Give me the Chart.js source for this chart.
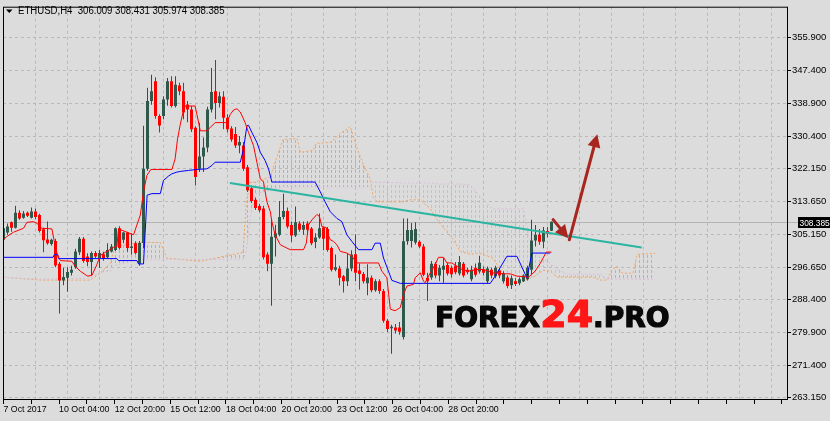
<!DOCTYPE html>
<html>
<head>
<meta charset="utf-8">
<title>ETHUSD H4</title>
<script src="https://cdn.jsdelivr.net/npm/chart.js@4.4.1/dist/chart.umd.min.js"></script>
<style>
    html, body { margin: 0; padding: 0; background: #dcdcdc; }
    #wrap { width: 830px; height: 421px; }
</style>
</head>
<body>
<div id="wrap"><canvas id="ethChart" width="830" height="421"></canvas></div>
<script>
/* =========================================
   ETHUSD H4 - ICHIMOKU CHART
   ========================================= */

// ===== DATA =====
const symbolName = 'ETHUSD,H4';

const candleOpen = [
    303.7, 305.6, 308.2, 306.8, 310.7, 309.4, 310.7, 309.4, 311.0, 310.1,
    306.4, 303.8, 302.6, 303.4, 297.5, 293.2, 293.9, 295.2, 296.6, 300.5,
    304.0, 299.4, 298.0, 300.3, 299.0, 300.0, 299.2, 300.7, 301.1, 306.7,
    303.7, 305.6, 301.6, 302.8, 297.5, 302.9, 322.0, 339.5, 344.6, 335.6,
    335.6, 339.9, 344.6, 338.2, 343.5, 342.0, 338.6, 337.3, 332.6, 322.0,
    325.2, 327.5, 337.3, 342.0, 339.0, 340.6, 335.2, 332.4, 331.0, 328.0,
    328.0, 322.4, 317.0, 314.0, 312.4, 311.8, 299.9, 297.5, 304.3, 305.0,
    309.6, 311.1, 307.5, 304.8, 307.9, 306.3, 307.9, 306.6, 303.1, 304.3,
    306.9, 306.5, 301.6, 296.0, 296.3, 294.3, 293.0, 296.3, 300.0, 295.8,
    294.9, 292.5, 293.9, 290.7, 293.0, 290.5, 282.8, 280.9, 281.1, 281.1,
    278.6, 303.3, 303.4, 303.0, 303.2, 302.0, 293.9, 294.0, 297.5, 294.5,
    296.0, 297.2, 296.5, 297.0, 295.0, 297.5, 296.0, 293.5, 296.5, 295.5,
    296.0, 293.0, 296.0, 294.3, 295.8, 293.0, 294.0, 292.0, 293.0, 292.5,
    293.0, 293.5, 296.0, 303.5, 305.0, 303.2, 306.0, 306.009
];
const candleHigh = [
    307.2, 307.9, 308.4, 312.5, 311.3, 311.1, 311.0, 312.0, 311.8, 310.4,
    306.8, 308.4, 304.0, 304.0, 298.0, 296.5, 296.6, 297.0, 301.4, 304.4,
    304.4, 300.2, 300.7, 300.8, 301.1, 300.6, 302.8, 302.6, 306.9, 307.2,
    305.8, 305.8, 305.4, 303.3, 303.4, 333.1, 342.9, 346.3, 345.6, 336.1,
    340.7, 345.4, 345.9, 345.9, 344.2, 344.2, 339.5, 338.2, 333.0, 333.9,
    330.1, 338.0, 348.0, 350.1, 341.9, 342.0, 336.1, 333.0, 332.8, 330.5,
    328.9, 323.0, 317.5, 314.6, 313.0, 312.5, 300.5, 308.9, 307.6, 313.7,
    315.6, 312.0, 308.4, 312.3, 308.5, 308.4, 308.5, 307.0, 305.4, 310.5,
    307.1, 307.0, 302.0, 299.9, 297.0, 294.6, 300.3, 301.0, 305.1, 297.6,
    295.4, 297.4, 294.5, 293.5, 293.5, 291.0, 283.3, 281.8, 282.0, 282.5,
    309.2, 309.2, 308.0, 308.2, 303.6, 302.6, 295.2, 298.2, 298.0, 297.2,
    299.0, 297.8, 297.0, 298.0, 299.5, 298.0, 296.5, 297.0, 297.6, 299.6,
    296.8, 296.8, 296.5, 297.0, 296.3, 295.6, 294.5, 294.5, 293.8, 294.0,
    294.8, 297.0, 308.9, 307.5, 306.5, 307.0, 307.0, 308.431
];
const candleLow = [
    303.3, 305.0, 305.8, 306.6, 308.9, 309.1, 309.6, 309.2, 309.0, 305.6,
    300.5, 302.4, 302.2, 296.6, 284.7, 292.0, 290.3, 294.5, 296.2, 299.8,
    297.8, 296.9, 294.6, 299.0, 296.4, 298.3, 298.9, 300.4, 300.8, 301.2,
    302.8, 300.6, 299.9, 299.9, 297.0, 301.5, 321.5, 338.5, 334.9, 331.4,
    334.8, 338.3, 337.8, 337.8, 341.0, 334.8, 334.0, 331.5, 317.7, 321.2,
    321.2, 326.3, 336.5, 334.8, 337.8, 332.2, 331.4, 329.0, 327.4, 326.0,
    321.5, 316.0, 313.2, 311.4, 310.8, 298.6, 295.6, 286.7, 299.4, 304.6,
    309.0, 306.6, 303.1, 304.4, 305.8, 305.0, 305.0, 302.3, 301.5, 304.0,
    301.0, 300.6, 295.5, 295.6, 291.9, 290.1, 291.8, 295.6, 293.0, 290.9,
    292.4, 289.4, 290.2, 290.3, 289.8, 282.3, 279.9, 274.3, 279.5, 279.2,
    278.0, 302.4, 301.7, 302.5, 301.6, 294.3, 287.9, 293.4, 293.8, 293.0,
    292.6, 294.5, 294.0, 294.8, 294.5, 294.0, 294.8, 293.0, 294.2, 295.0,
    294.5, 292.5, 293.8, 293.8, 293.8, 292.4, 291.2, 291.0, 291.8, 292.0,
    292.8, 293.2, 294.9, 302.0, 302.4, 301.5, 304.3, 305.974
];
const candleClose = [
    306.7, 307.1, 306.8, 310.7, 309.2, 310.5, 309.9, 311.0, 309.6, 306.0,
    303.6, 302.8, 303.7, 297.1, 293.2, 294.1, 295.4, 296.0, 300.7, 304.0,
    298.2, 298.0, 300.3, 299.4, 300.3, 298.8, 301.1, 302.0, 306.7, 301.6,
    305.6, 301.6, 302.0, 300.3, 302.9, 322.0, 339.5, 342.0, 335.6, 333.2,
    339.9, 344.6, 338.2, 343.7, 342.0, 336.5, 337.3, 332.2, 319.9, 325.2,
    327.5, 337.3, 341.8, 339.0, 340.7, 335.2, 332.2, 329.6, 328.0, 328.9,
    322.0, 316.5, 313.7, 311.9, 311.3, 299.2, 297.5, 304.5, 305.4, 309.6,
    311.1, 307.1, 304.8, 308.2, 306.3, 307.5, 306.3, 302.8, 304.3, 306.7,
    304.0, 301.1, 296.0, 296.6, 293.9, 293.0, 296.3, 299.9, 295.2, 294.9,
    293.0, 294.0, 290.7, 293.0, 290.5, 282.8, 280.7, 281.3, 280.3, 280.0,
    303.3, 306.2, 306.2, 306.5, 302.0, 294.7, 293.0, 297.5, 294.5, 296.5,
    297.0, 295.0, 294.8, 295.3, 298.0, 294.5, 295.3, 296.0, 294.7, 297.8,
    295.2, 296.3, 294.5, 296.5, 294.5, 295.0, 291.8, 293.8, 292.3, 293.5,
    294.5, 296.5, 303.5, 305.0, 303.2, 306.1, 305.2, 308.385
];

// Tenkan-sen (red) - bar index / price
const tenkanIdx = [
    0, 0.85, 2.5, 5, 5.85, 7.5, 8.35, 9.6, 12.1, 12.7, 13.35, 14.2, 17.1, 17.9, 19.2,
    21, 22.1, 23.35, 24.2, 25.85, 27.5, 28.35, 28.75, 32.5, 34.2, 35, 35.85, 36.85,
    42.1, 42.9, 43.5, 44.2, 44.85, 45.4, 47.9, 48.35, 49.2, 50.85, 52.9, 55.85, 56.7,
    57.5, 58.35, 59.2, 60.4, 61.25, 62.5, 63.35, 64.2, 65, 65.85, 66.7, 67.1, 67.9,
    69.2, 70.85, 71.7, 75, 75.7, 76.25, 77.1, 78.35, 79, 79.6, 80.7, 81, 81.7, 82.5,
    83.35, 84.2, 85.85, 87.1, 88.35, 93.75, 94.6, 95.85, 96.7, 97.9, 99.2, 100,
    100.85, 102.5, 102.9, 104.2, 105, 105.4, 106.7, 107.9, 108.75, 110, 110.85,
    112.1, 113.35, 114.6, 116.25, 118.35, 120, 121.25, 122.5, 125.4, 126.7, 128.35,
    131.25, 132.9, 134.2, 135.7, 137
];
const tenkanVal = [
    303.78, 304.55, 305.65, 306.67, 308.2, 308.38, 307.95, 306.67, 306.51, 303.27,
    300.28, 298.34, 298.16, 296.88, 295.6, 294.33, 294.51, 297.32, 299.69, 300.71,
    301.74, 301.99, 306.51, 304.98, 310.09, 316.05, 320.31, 321.84, 321.84, 324.55,
    329.66, 333.49, 336.48, 338.2, 338.2, 336.05, 331.81, 331.81, 333.93, 333.93,
    336.05, 337.17, 337.51, 336.66, 333.93, 331.37, 327.98, 323.71, 319.44, 318.6,
    313.49, 310.94, 308.38, 304.98, 302.43, 301.56, 301.15, 301.15, 302.83, 307.54,
    308.81, 310.24, 309.66, 307.1, 306.85, 305.39, 303.71, 303.27, 302.43, 300.71,
    300.28, 299.44, 297.73, 297.73, 295.6, 293.89, 285.82, 285.4, 286.23, 289.65,
    291.77, 292.2, 293.89, 295.17, 293.05, 292.62, 295.17, 297.32, 299.18, 299.18,
    297.73, 297.73, 296.88, 296.04, 295.6, 296.04, 296.04, 295.6, 295.17, 294.92,
    294.92, 294.33, 294.07, 295.6, 297.65, 300.54, 300.54
];

// Kijun-sen (blue)
const kijunIdx = [
    0, 12.4, 12.7, 13.55, 13.75, 28.35, 28.75, 33.35, 33.75, 35, 35.9, 37.1, 39.2, 40,
    41.25, 42.1, 43.35, 44.2, 46.25, 48.35, 50.85, 52.1, 52.9, 59.2, 60, 60.85, 61.25,
    62.1, 63.35, 64.2, 65.4, 66.25, 67.1, 77.9, 79.2, 80.4, 81.7, 83.35, 84.6, 85.85,
    87.1, 88.75, 92.1, 92.9, 94.2, 95, 97.1, 99.2, 121.7, 122.9, 125.85, 128.35,
    130.85, 132.1, 136.7
];
const kijunVal = [
    299.18, 299.18, 299.87, 299.87, 298.85, 298.85, 298.34, 298.34, 297.47, 297.47,
    315.2, 315.61, 315.61, 319.03, 320.13, 320.72, 321.16, 321.33, 321.59, 321.84,
    322.0, 322.87, 323.71, 323.71, 327.11, 333.09, 333.24, 331.37, 328.82, 326.27,
    324.14, 322.0, 318.6, 318.6, 316.05, 313.49, 310.94, 309.22, 308.38, 304.98,
    303.27, 301.15, 301.15, 302.83, 302.83, 299.0, 293.23, 292.46, 292.46, 294.33,
    299.44, 299.44, 293.89, 300.28, 300.28
];

// Senkou span A (sandy brown) and B (thistle), shifted 26 bars ahead
const spanIdx = [
    0, 2.9, 9.2, 21.7, 24.2, 26.7, 27.9, 34.2, 39.2, 40.9, 49.2, 59.9, 60.7, 61.7,
    62.9, 66.7, 67.9, 69.9, 73.4, 74.2, 77.4, 78.2, 81.7, 84.2, 86.7, 87.9, 89.7,
    91.7, 92.4, 93.4, 99.9, 101.7, 104.2, 106.7, 108.7, 112.2, 114.2, 116.7, 119.2,
    122.4, 125.9, 129.9, 131.7, 132.9, 134.9, 136.7, 138.4, 140.9, 147.4, 149.2,
    150.9, 152.2, 153.4, 154.7, 157.4, 158.4, 162.9
];
const spanA = [
    294.07, 293.82, 293.31, 293.31, 295.1, 297.65, 301.99, 303.02, 303.02, 298.93,
    298.16, 300.46, 313.49, 318.6, 318.6, 319.88, 323.71, 329.59, 329.84, 326.27,
    326.78, 328.57, 328.82, 331.12, 332.91, 328.82, 323.71, 319.37, 314.77, 313.49,
    313.49, 314.0, 314.0, 311.7, 308.38, 304.04, 300.71, 299.95, 300.2, 298.93,
    293.05, 293.05, 293.82, 294.33, 295.86, 295.6, 294.07, 294.07, 294.07, 293.31,
    293.31, 296.12, 296.88, 295.1, 295.1, 299.95, 300.2
];
const spanB = [
    294.07, 293.82, 293.56, 293.82, 295.35, 295.6, 297.14, 298.67, 298.67, 298.67,
    298.67, 298.67, 300.71, 309.66, 315.53, 316.56, 316.81, 317.32, 317.32, 317.32,
    317.32, 317.32, 317.32, 317.32, 317.32, 317.32, 317.32, 317.32, 318.6, 318.6,
    318.35, 318.35, 318.35, 318.35, 318.09, 318.09, 318.09, 317.83, 314.77, 311.7,
    311.7, 311.7, 303.27, 300.2, 298.67, 297.65, 296.12, 294.84, 294.84, 294.84,
    293.56, 293.56, 293.56, 293.56, 293.56, 293.56, 293.56
];

// Trend line and arrows (bar index, price)
const trendIdx = [56.6, 159.55];
const trendVal = [318.35, 301.74];
const arrowFrom = [[137.4, 308.9], [141.45, 303.7]];
const arrowTo = [[141.2, 304.1], [148.45, 330.94]];

// Axis labels
const priceTicks = [263.15, 271.40, 279.90, 288.40, 296.65, 305.15, 313.65, 322.15, 330.40, 338.90, 347.40, 355.90];
const timeLabels = ['7 Oct 2017', '10 Oct 04:00', '12 Oct 20:00', '15 Oct 12:00', '18 Oct 04:00',
    '20 Oct 20:00', '23 Oct 12:00', '26 Oct 04:00', '28 Oct 20:00'];
const barsPerLabel = 13.9;
const barsPerGrid = 8;

// ===== SETUP =====
const X_MIN = -0.125, X_MAX = 195.875;
const BG = '#dcdcdc';
const GRID = '#b9b9b9';
const AXIS_FONT = "'Liberation Sans', Arial, sans-serif";

const lastIdx = candleClose.length - 1;
const lastClose = candleClose[lastIdx];
const bars = candleClose.map((_, i) => i);
const isUp = i => candleClose[i] >= candleOpen[i];

const canvas = document.getElementById('ethChart');
const baseCtx = canvas.getContext('2d');

// vertical dotted hatch like the MT4 cloud histogram
function hatch(color) {
    const c = document.createElement('canvas');
    c.width = 4;
    c.height = 5;
    const g = c.getContext('2d');
    g.fillStyle = color;
    g.fillRect(3, 0, 1, 3);
    return baseCtx.createPattern(c, 'repeat');
}

const xTicks = [];
for (let v = 0; v <= X_MAX; v += barsPerLabel / 2) xTicks.push(v);
const gridTicks = [];
for (let v = 0; v <= X_MAX; v += barsPerGrid) gridTicks.push(v);

const toPoints = (xs, ys) => xs.map((x, k) => ({ x: x, y: ys[k] }));

function drawArrow(ctx, x1, y1, x2, y2, headLen, headW) {
    const ang = Math.atan2(y2 - y1, x2 - x1);
    const bx = x2 - headLen * Math.cos(ang);
    const by = y2 - headLen * Math.sin(ang);
    ctx.beginPath();
    ctx.moveTo(x1, y1);
    ctx.lineTo(bx, by);
    ctx.stroke();
    ctx.beginPath();
    ctx.moveTo(x2, y2);
    ctx.lineTo(bx + headW / 2 * Math.sin(ang), by - headW / 2 * Math.cos(ang));
    ctx.lineTo(bx - headW / 2 * Math.sin(ang), by + headW / 2 * Math.cos(ang));
    ctx.closePath();
    ctx.fill();
}

// ===== PLUGIN: background, price line, overlays =====
const mt4Overlay = {
    id: 'mt4Overlay',
    beforeDraw(chart) {
        const { ctx, width, height } = chart;
        ctx.save();
        ctx.fillStyle = BG;
        ctx.fillRect(0, 0, width, height);
        ctx.restore();
    },
    beforeDatasetsDraw(chart) {
        const { ctx, chartArea: a, scales } = chart;
        const py = Math.round(scales.y.getPixelForValue(lastClose)) + 0.5;
        ctx.save();
        ctx.strokeStyle = '#b4b4b4';
        ctx.lineWidth = 1;
        ctx.beginPath();
        ctx.moveTo(a.left, py);
        ctx.lineTo(a.right, py);
        ctx.stroke();
        ctx.restore();
    },
    afterDatasetsDraw(chart) {
        const { ctx, chartArea: a, scales } = chart;
        const xs = scales.x, ys = scales.y;

        // arrows
        ctx.save();
        ctx.strokeStyle = '#a8261f';
        ctx.fillStyle = '#a8261f';
        ctx.lineWidth = 3;
        ctx.lineCap = 'round';
        arrowFrom.forEach((f, k) => {
            const t = arrowTo[k];
            drawArrow(ctx,
                xs.getPixelForValue(f[0]), ys.getPixelForValue(f[1]),
                xs.getPixelForValue(t[0]), ys.getPixelForValue(t[1]), 13, 13);
        });
        ctx.restore();

        // watermark
        ctx.save();
        ctx.textBaseline = 'alphabetic';
        ctx.lineJoin = 'round';
        ctx.lineWidth = 1.2;
        let wx = 435;
        const wy = 327;
        const part = (text, font, color) => {
            ctx.font = font;
            ctx.fillStyle = color;
            ctx.strokeStyle = color;
            ctx.fillText(text, wx, wy);
            ctx.strokeText(text, wx, wy);
            wx += ctx.measureText(text).width;
        };
        part('FOREX', "bold 28px 'DejaVu Sans'", '#080808');
        part('24', "bold 38px 'DejaVu Sans'", '#ff1616');
        part('.PRO', "bold 28px 'DejaVu Sans'", '#080808');
        ctx.restore();

        // header
        ctx.save();
        ctx.fillStyle = '#000';
        ctx.beginPath();
        ctx.moveTo(6, 9.5);
        ctx.lineTo(12.5, 9.5);
        ctx.lineTo(9.25, 13);
        ctx.closePath();
        ctx.fill();
        ctx.font = '10px ' + AXIS_FONT;
        ctx.textBaseline = 'middle';
        const header = symbolName + '  ' + [candleOpen[lastIdx], candleHigh[lastIdx],
            candleLow[lastIdx], candleClose[lastIdx]].map(v => v.toFixed(3)).join(' ');
        ctx.translate(18, 11);
        ctx.scale(0.96, 1);
        ctx.fillText(header, 0, 0);
        ctx.restore();

        // frame
        ctx.save();
        ctx.strokeStyle = '#000';
        ctx.lineWidth = 1;
        ctx.strokeRect(a.left + 0.5, a.top + 0.5, a.right - a.left, a.bottom - a.top - 1);
        ctx.restore();
    },
    afterDraw(chart) {
        const { ctx, chartArea: a, scales } = chart;
        const py = Math.round(scales.y.getPixelForValue(lastClose)) + 0.5;
        ctx.save();
        ctx.strokeStyle = '#b4b4b4';
        ctx.beginPath();
        ctx.moveTo(a.right + 1, py);
        ctx.lineTo(798, py);
        ctx.stroke();
        ctx.fillStyle = '#000';
        ctx.fillRect(798, py - 5.5, 32, 11);
        ctx.fillStyle = '#fff';
        ctx.font = '9.5px ' + AXIS_FONT;
        ctx.textBaseline = 'middle';
        ctx.translate(799.5, py + 0.5);
        ctx.scale(0.88, 1);
        ctx.fillText(lastClose.toFixed(3), 0, 0);
        ctx.restore();
    }
};

// ===== CHART =====
new Chart(canvas, {
    type: 'bar',
    data: {
        datasets: [
            {
                type: 'line',
                label: 'Senkou Span A',
                data: toPoints(spanIdx, spanA),
                borderColor: '#f4a460',
                borderWidth: 1,
                borderDash: [2, 2],
                pointRadius: 0,
                tension: 0,
                fill: { target: '+1', above: hatch('#f4a460'), below: hatch('#d2b6d2') },
                order: 10
            },
            {
                type: 'line',
                label: 'Senkou Span B',
                data: toPoints(spanIdx, spanB),
                borderColor: '#d8bfd8',
                borderWidth: 1,
                borderDash: [2, 2],
                pointRadius: 0,
                tension: 0,
                fill: false,
                order: 9
            },
            {
                label: 'Wicks',
                data: bars.map(i => ({ x: i, y: [candleLow[i], candleHigh[i]] })),
                backgroundColor: bars.map(i => isUp(i) ? '#2f4f4f' : '#ff0000'),
                barThickness: 1,
                grouped: false,
                inflateAmount: 0,
                borderWidth: 0,
                order: 6
            },
            {
                label: 'Bodies',
                data: bars.map(i => ({ x: i, y: [candleOpen[i], candleClose[i]] })),
                backgroundColor: bars.map(i => isUp(i) ? '#2f5a4b' : '#ff0000'),
                barThickness: 3,
                minBarLength: 1,
                grouped: false,
                inflateAmount: 0,
                borderWidth: 0,
                order: 5
            },
            {
                type: 'line',
                label: 'Tenkan-sen',
                data: toPoints(tenkanIdx, tenkanVal),
                borderColor: '#ff0000',
                borderWidth: 1,
                pointRadius: 0,
                tension: 0,
                fill: false,
                order: 3
            },
            {
                type: 'line',
                label: 'Kijun-sen',
                data: toPoints(kijunIdx, kijunVal),
                borderColor: '#0000ff',
                borderWidth: 1,
                pointRadius: 0,
                tension: 0,
                fill: false,
                order: 3
            },
            {
                type: 'line',
                label: 'Trend',
                data: toPoints(trendIdx, trendVal),
                borderColor: '#2ab5a0',
                borderWidth: 2,
                pointRadius: 0,
                fill: false,
                order: 2
            }
        ]
    },
    options: {
        responsive: false,
        devicePixelRatio: 1,
        animation: false,
        events: [],
        layout: { padding: { left: 3, top: 3, right: 0, bottom: 0 } },
        plugins: {
            legend: { display: false },
            tooltip: { enabled: false },
            title: { display: false }
        },
        scales: {
            x: {
                type: 'linear',
                position: 'bottom',
                min: X_MIN,
                max: X_MAX,
                offset: false,
                afterBuildTicks: s => { s.ticks = xTicks.map(v => ({ value: v })); },
                afterFit: s => { s.height = 21; },
                ticks: {
                    autoSkip: false,
                    maxRotation: 0,
                    align: 'start',
                    padding: 0,
                    color: '#000',
                    font: { family: AXIS_FONT, size: 8.8 },
                    callback: (v, k) => (k % 2 === 0 && timeLabels[k / 2]) ? timeLabels[k / 2] : ''
                },
                grid: { drawOnChartArea: false, drawTicks: true, tickLength: 4, tickColor: '#000', offset: false },
                border: { display: false }
            },
            xGrid: {
                type: 'linear',
                position: 'bottom',
                min: X_MIN,
                max: X_MAX,
                offset: false,
                afterBuildTicks: s => { s.ticks = gridTicks.map(v => ({ value: v })); },
                afterFit: s => { s.height = 0; },
                ticks: { display: false },
                grid: { color: GRID, drawTicks: false, offset: false },
                border: { display: false, dash: [3, 3] }
            },
            y: {
                type: 'linear',
                position: 'right',
                min: 262.38,
                max: 363.82,
                afterBuildTicks: s => { s.ticks = priceTicks.map(v => ({ value: v })); },
                afterFit: s => { s.width = 43; },
                ticks: {
                    autoSkip: false,
                    padding: 1,
                    color: '#000',
                    font: { family: AXIS_FONT, size: 9.5 },
                    callback: v => Number(v).toFixed(3)
                },
                grid: { color: GRID, tickColor: '#000', tickLength: 4, tickBorderDash: [] },
                border: { display: false, dash: [3, 3] }
            }
        }
    },
    plugins: [mt4Overlay]
});
</script>
</body>
</html>
